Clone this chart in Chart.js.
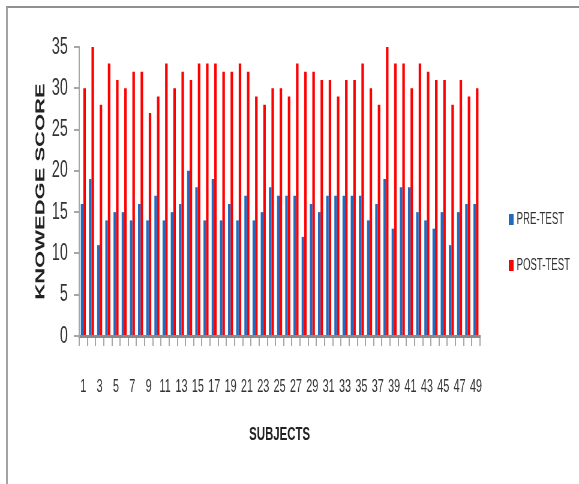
<!DOCTYPE html>
<html>
<head>
<meta charset="utf-8">
<script src="https://cdn.jsdelivr.net/npm/chart.js@4.4.1/dist/chart.umd.min.js"></script>
<style>
html, body { margin: 0; padding: 0; background: #fff; }
#wrap { position: relative; width: 579px; height: 484px; overflow: hidden; }
#frame { position: absolute; left: 6px; top: 6px; right: 0; bottom: 0;
         border-top: 2px solid #8f8f8f; border-left: 2px solid #a3a3a3; }
#chart { position: absolute; left: 0; top: 0; }
</style>
</head>
<body>
<div id="wrap">
  <div id="frame"></div>
  <!-- the source picture is squeezed sideways, so the canvas is drawn wide and shown narrow -->
  <canvas id="chart" width="965" height="484" style="width:579px;height:484px;"></canvas>
</div>
<script>
// Subjects 1..49
const subjects = ['1','2','3','4','5','6','7','8','9','10','11','12','13','14','15','16','17',
  '18','19','20','21','22','23','24','25','26','27','28','29','30','31','32','33','34','35',
  '36','37','38','39','40','41','42','43','44','45','46','47','48','49'];

// Only every other subject is labelled on the axis
const shownTicks = ['1','3','5','7','9','11','13','15','17','19','21','23','25','27','29',
  '31','33','35','37','39','41','43','45','47','49'];

const preTest = [16, 19, 11, 14, 15, 15, 14, 16, 14, 17, 14, 15, 16, 20, 18, 14, 19,
  14, 16, 14, 17, 14, 15, 18, 17, 17, 17, 12, 16, 15, 17, 17, 17, 17, 17,
  14, 16, 19, 13, 18, 18, 15, 14, 13, 15, 11, 15, 16, 16];

const postTest = [30, 35, 28, 33, 31, 30, 32, 32, 27, 29, 33, 30, 32, 31, 33, 33, 33,
  32, 32, 33, 32, 29, 28, 30, 30, 29, 33, 32, 32, 31, 31, 29, 31, 31, 33,
  30, 28, 35, 33, 33, 30, 33, 32, 31, 31, 28, 31, 29, 30];

// legend on the right, drawn by hand
const sideLegend = {
  id: 'sideLegend',
  afterDraw(chart) {
    const ctx = chart.ctx;
    const rows = [219, 265];
    chart.data.datasets.forEach((ds, i) => {
      ctx.save();
      ctx.fillStyle = ds.backgroundColor;
      ctx.fillRect(848, rows[i] - 5, 8, 11);
      ctx.fillStyle = '#333333';
      ctx.font = '16px "Liberation Sans", Arial, sans-serif';
      ctx.textBaseline = 'middle';
      ctx.fillText(ds.label, 861, rows[i] + 1);
      ctx.restore();
    });
  }
};

const config = {
  type: 'bar',
  data: {
    labels: subjects,
    datasets: [
      { label: 'PRE-TEST', data: preTest, backgroundColor: '#1f6bbf' },
      { label: 'POST-TEST', data: postTest, backgroundColor: '#ff0000' }
    ]
  },
  options: {
    responsive: false,
    devicePixelRatio: 1,
    animation: false,
    layout: { padding: { top: 47, right: 165, left: 0, bottom: 0 } },
    datasets: { bar: { categoryPercentage: 0.62, barPercentage: 1.0 } },
    plugins: {
      legend: { display: false },
      tooltip: { enabled: false }
    },
    scales: {
      x: {
        z: 1,
        grid: { drawOnChartArea: false, drawTicks: true, tickLength: 10, color: '#a6a6a6', lineWidth: 2 },
        border: { color: '#8a8a8a', width: 3 },
        ticks: {
          autoSkip: false,
          maxRotation: 0,
          padding: 30,
          color: '#333333',
          font: { family: '"Liberation Sans", Arial, sans-serif', size: 18 },
          callback: function (value, index) {
            const lbl = this.getLabelForValue(value);
            return shownTicks.includes(lbl) ? lbl : '';
          }
        },
        title: {
          display: true,
          text: 'SUBJECTS',
          color: '#222222',
          font: { family: '"Liberation Sans", Arial, sans-serif', size: 19, weight: 'bold' },
          padding: { top: 0, bottom: 38 }
        },
        afterFit(scale) { scale.height = 148; }
      },
      y: {
        min: 0,
        max: 35,
        grid: { drawOnChartArea: false, drawTicks: true, tickLength: 9, color: '#a6a6a6', lineWidth: 2 },
        border: { color: '#a6a6a6', width: 2 },
        ticks: {
          stepSize: 5,
          padding: 10,
          color: '#333333',
          font: { family: '"Liberation Sans Narrow", "Liberation Sans", Arial, sans-serif', size: 24 }
        },
        title: {
          display: true,
          text: 'KNOWEDGE SCORE',
          color: '#222222',
          font: { family: '"Liberation Sans", Arial, sans-serif', size: 22, weight: 'bold' },
          padding: { top: 55, bottom: 0 }
        },
        afterFit(scale) { scale.width = 132; }
      }
    }
  },
  plugins: [sideLegend]
};

const myChart = new Chart(document.getElementById('chart'), config);
</script>
</body>
</html>
